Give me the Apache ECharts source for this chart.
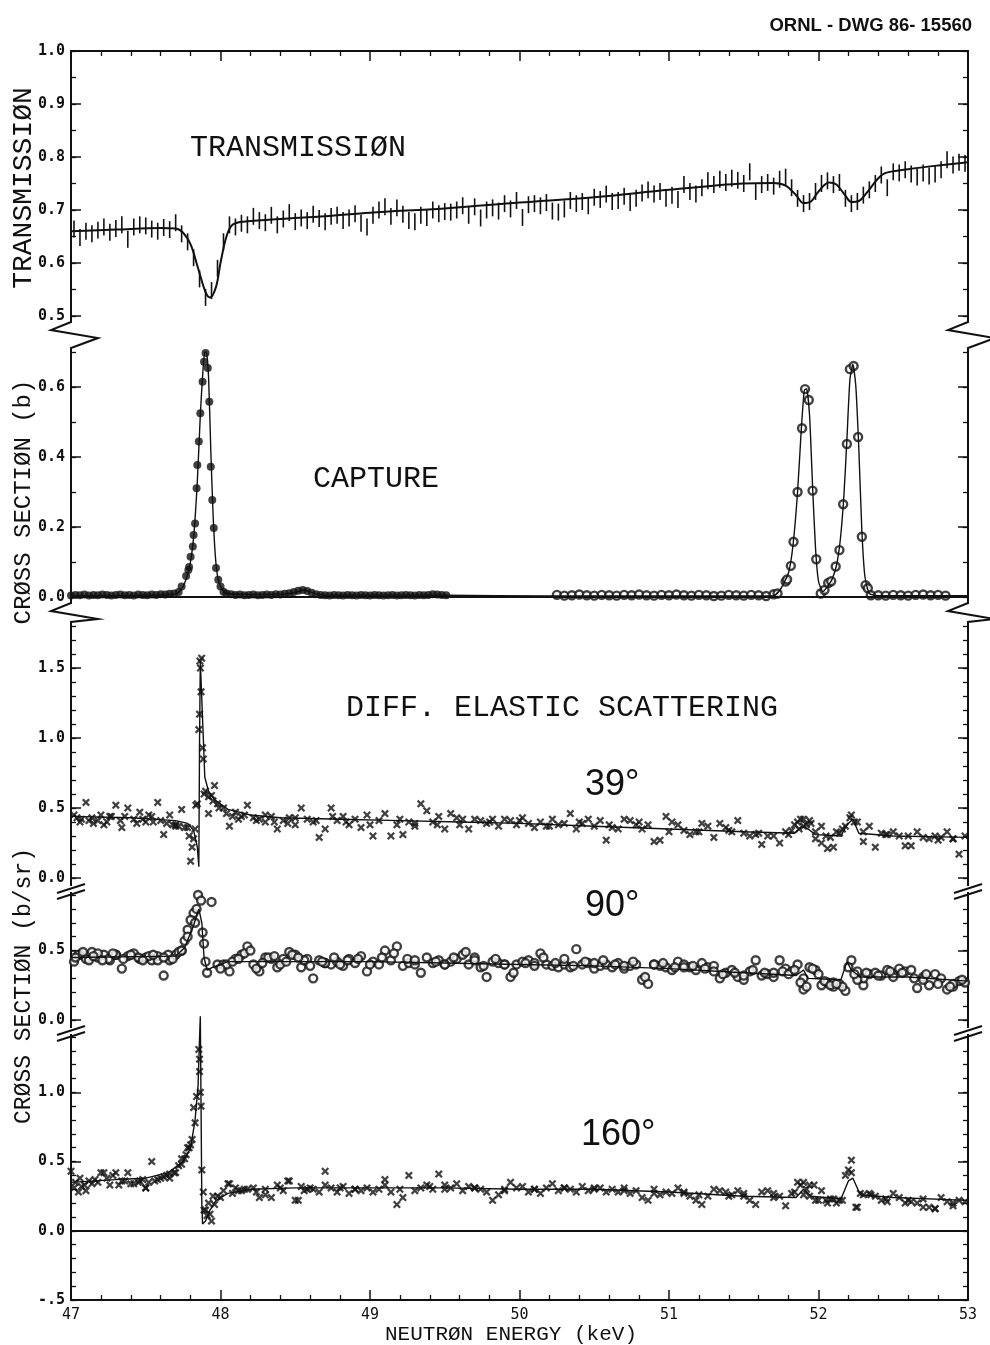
<!DOCTYPE html>
<html>
<head>
<meta charset="utf-8">
<script src="https://cdn.jsdelivr.net/npm/echarts@6/dist/echarts.min.js"></script>
<style>
html,body{margin:0;padding:0;background:#fff;}
#chart{width:990px;height:1345px;}
</style>
</head>
<body>
<div id="chart"></div>
<script>
// ---------------- DATA ----------------
const energyGrid = [
 47.02,47.06,47.10,47.14,47.18,47.22,47.26,47.30,47.34,47.38,
 47.42,47.46,47.50,47.54,47.58,47.62,47.66,47.70,47.74,47.78,
 47.82,47.86,47.90,47.94,47.98,48.02,48.06,48.10,48.14,48.18,
 48.22,48.26,48.30,48.34,48.38,48.42,48.46,48.50,48.54,48.58,
 48.62,48.66,48.70,48.74,48.78,48.82,48.86,48.90,48.94,48.98,
 49.02,49.06,49.10,49.14,49.18,49.22,49.26,49.30,49.34,49.38,
 49.42,49.46,49.50,49.54,49.58,49.62,49.66,49.70,49.74,49.78,
 49.82,49.86,49.90,49.94,49.98,50.02,50.06,50.10,50.14,50.18,
 50.22,50.26,50.30,50.34,50.38,50.42,50.46,50.50,50.54,50.58,
 50.62,50.66,50.70,50.74,50.78,50.82,50.86,50.90,50.94,50.98,
 51.02,51.06,51.10,51.14,51.18,51.22,51.26,51.30,51.34,51.38,
 51.42,51.46,51.50,51.54,51.58,51.62,51.66,51.70,51.74,51.78,
 51.82,51.86,51.90,51.94,51.98,52.02,52.06,52.10,52.14,52.18,
 52.22,52.26,52.30,52.34,52.38,52.42,52.46,52.50,52.54,52.58,
 52.62,52.66,52.70,52.74,52.78,52.82,52.86,52.90,52.94,52.98
];

const transmission = [
 .664,.648,.660,.655,.662,.668,.658,.665,.672,.645,
 .668,.672,.670,.664,.660,.667,.663,.676,.655,.640,
 .610,.570,.535,.548,.590,.640,.672,.668,.675,.672,
 .688,.680,.676,.690,.672,.683,.695,.678,.685,.680,
 .692,.684,.678,.688,.690,.680,.685,.693,.675,.668,
 .690,.700,.706,.688,.704,.692,.680,.678,.690,.686,
 .700,.693,.697,.696,.700,.708,.690,.706,.685,.700,
 .704,.698,.712,.702,.718,.686,.710,.712,.708,.714,
 .698,.696,.702,.718,.712,.716,.708,.724,.720,.730,
 .716,.718,.726,.714,.722,.732,.738,.730,.735,.722,
 .728,.720,.748,.735,.730,.742,.755,.748,.758,.752,
 .760,.756,.750,.772,.735,.748,.752,.745,.758,.762,
 .742,.722,.712,.716,.735,.750,.755,.748,.752,.722,
 .712,.716,.728,.738,.750,.766,.742,.772,.770,.776,
 .768,.762,.770,.764,.768,.776,.795,.785,.790,.788
];
const transmissionErr = 0.016;

const transmissionFit = [[47.0,.660],[47.3,.663],[47.6,.666],[47.7,.665],[47.75,.657],[47.8,.635],[47.85,.590],[47.9,.545],[47.93,.535],[47.97,.555],[48.0,.600],[48.04,.650],[48.08,.672],[48.15,.678],[48.4,.683],[48.7,.688],[49.0,.695],[49.5,.703],[50.0,.714],[50.5,.724],[51.0,.738],[51.5,.750],[51.7,.751],[51.78,.746],[51.85,.728],[51.9,.713],[51.95,.716],[52.0,.735],[52.07,.752],[52.12,.748],[52.18,.727],[52.22,.715],[52.27,.717],[52.33,.735],[52.4,.760],[52.45,.770],[52.6,.777],[52.8,.784],[53.0,.790]];

const captureLow = [
 [47.00,.004],[47.03,.006],[47.06,.005],[47.09,.007],[47.12,.004],[47.15,.006],[47.18,.005],[47.21,.007],[47.24,.006],[47.27,.004],
 [47.30,.006],[47.33,.007],[47.36,.005],[47.39,.006],[47.42,.004],[47.45,.007],[47.48,.006],[47.51,.005],[47.54,.007],[47.57,.006],
 [47.60,.008],[47.63,.007],[47.66,.009],[47.69,.010],[47.72,.014],
 [47.74,.030],[47.77,.060],[47.785,.077],[47.79,.086],[47.80,.115],[47.815,.144],[47.82,.177],[47.83,.210],[47.84,.311],[47.845,.377],
 [47.855,.444],[47.865,.525],[47.88,.615],[47.89,.672],[47.90,.697],[47.915,.654],[47.925,.558],[47.935,.372],[47.945,.277],[47.955,.197],
 [47.97,.083],[47.985,.049],[48.00,.030],[48.02,.015],
 [48.04,.010],[48.07,.008],[48.10,.006],[48.13,.007],[48.16,.005],[48.19,.006],[48.22,.007],[48.25,.005],[48.28,.006],[48.31,.007],
 [48.34,.006],[48.37,.008],[48.40,.007],[48.43,.009],[48.46,.011],[48.49,.014],[48.52,.018],[48.55,.020],[48.58,.017],[48.61,.012],
 [48.64,.008],[48.67,.006],[48.70,.005],[48.73,.004],[48.76,.006],[48.79,.005],[48.82,.004],[48.85,.006],[48.88,.005],[48.91,.004],
 [48.94,.006],[48.97,.005],[49.00,.004],[49.03,.006],[49.06,.005],[49.09,.004],[49.12,.005],[49.15,.006],[49.18,.004],[49.21,.005],
 [49.24,.006],[49.27,.005],[49.30,.004],[49.33,.006],[49.36,.005],[49.39,.006],[49.42,.008],[49.45,.007],[49.48,.006],[49.51,.005]
];
const captureHigh = [
 [50.25,.006],[50.30,.004],[50.35,.005],[50.40,.007],[50.45,.005],[50.50,.004],[50.55,.006],[50.60,.005],[50.65,.004],[50.70,.006],
 [50.75,.005],[50.80,.007],[50.85,.005],[50.90,.004],[50.95,.006],[51.00,.005],[51.05,.007],[51.10,.005],[51.15,.004],[51.20,.006],
 [51.25,.005],[51.30,.003],[51.35,.004],[51.40,.006],[51.45,.005],[51.50,.004],[51.55,.006],[51.60,.005],[51.65,.003],[51.70,.008],
 [51.726,.010],[51.78,.044],[51.79,.050],[51.815,.089],[51.833,.158],[51.86,.300],[51.89,.482],[51.91,.594],[51.935,.563],[51.96,.304],
 [51.985,.108],[52.015,.010],[52.04,.020],[52.065,.040],[52.085,.045],[52.115,.087],[52.14,.134],[52.165,.265],[52.19,.437],[52.21,.651],
 [52.235,.660],[52.265,.457],[52.29,.172],[52.315,.034],[52.33,.025],[52.35,.005],
 [52.40,.005],[52.45,.004],[52.50,.006],[52.55,.005],[52.60,.004],[52.65,.006],[52.70,.007],[52.75,.005],[52.80,.006],[52.85,.004]
];
const captureFit = [[47.0,.004],[47.70,.008],[47.75,.03],[47.79,.08],[47.82,.17],[47.845,.33],[47.865,.52],[47.88,.63],[47.895,.70],[47.905,.70],[47.92,.63],[47.935,.42],[47.95,.24],[47.965,.12],[47.98,.06],[48.00,.03],[48.04,.01],[48.40,.007],[48.50,.013],[48.56,.02],[48.62,.011],[48.70,.005],[49.50,.005],[50.20,.003],[51.70,.004],[51.75,.025],[51.80,.07],[51.83,.15],[51.86,.30],[51.885,.48],[51.905,.59],[51.92,.595],[51.94,.52],[51.96,.32],[51.98,.14],[52.00,.045],[52.03,.015],[52.06,.03],[52.09,.05],[52.12,.09],[52.145,.16],[52.17,.29],[52.19,.45],[52.21,.62],[52.23,.665],[52.25,.60],[52.27,.42],[52.29,.19],[52.31,.06],[52.34,.01],[52.40,.004],[53.0,.004]];

const scat39 = [
 .45,.40,.54,.43,.41,.38,.44,.52,.36,.50,
 .42,.47,.40,.44,.54,.31,.45,.38,.49,.36,
 .28,1.17,.62,.59,.53,.50,.37,.47,.44,.52,
 .43,.42,.40,.44,.35,.41,.43,.38,.50,.42,
 .40,.29,.35,.50,.41,.44,.38,.42,.36,.45,
 .30,.41,.46,.30,.38,.31,.40,.37,.53,.48,
 .40,.44,.35,.46,.43,.42,.35,.42,.41,.39,
 .42,.37,.42,.41,.38,.43,.39,.36,.40,.37,
 .42,.38,.39,.46,.35,.39,.42,.37,.41,.27,
 .36,.35,.42,.41,.38,.35,.38,.26,.27,.44,
 .40,.38,.34,.31,.33,.39,.37,.29,.39,.36,
 .33,.41,.32,.30,.31,.24,.30,.30,.25,.33,
 .34,.40,.37,.41,.28,.37,.21,.22,.32,.37,
 .45,.40,.26,.37,.22,.32,.31,.33,.30,.23,
 .23,.33,.29,.28,.30,.29,.33,.28,.17,.30
];
const scat39Extra = [[47.79,.30],[47.80,.12],[47.81,.22],[47.83,.35],[47.835,.52],[47.845,.53],[47.855,1.06],[47.862,1.55],[47.866,1.50],[47.87,1.33],[47.874,1.57],[47.88,.93],[47.885,.85],[47.89,.60],[47.92,.46],[47.96,.66],[47.07,.42],[47.15,.39],[47.27,.44],[47.33,.41],[47.55,.40],[47.70,.37],[48.30,.45],[48.45,.39],[48.75,.44],[49.20,.42],[49.60,.38],[50.00,.41],[50.40,.40],[50.80,.40],[51.20,.33],[51.60,.32],[51.87,.35],[51.90,.42],[51.95,.39],[52.05,.30],[52.21,.43],[52.45,.31],[52.80,.27],
 [47.04,.43],[47.12,.41],[47.20,.45],[47.24,.40],[47.36,.44],[47.44,.39],[47.48,.42],[47.52,.45],[47.60,.41],[47.64,.39],[47.68,.38],[47.72,.37],[47.76,.36],[47.92,.58],[47.95,.55],[47.99,.50],[48.04,.46],[48.08,.44],[48.12,.42],[48.16,.45],[48.24,.41],[48.36,.40],[48.50,.43],[48.64,.41],[48.84,.40],[49.00,.38],[49.30,.39],[49.45,.38],[49.80,.40],[50.20,.37],[50.60,.38],[51.00,.33],[51.40,.34],[51.80,.31],[51.84,.38],[51.88,.42],[51.92,.38],[51.98,.33],[52.02,.25],[52.08,.29],[52.12,.33],[52.16,.35],[52.24,.40],[52.30,.33],[52.60,.30],[52.90,.28]];
const fit39 = [[47.0,.44],[47.4,.43],[47.7,.41],[47.78,.39],[47.82,.34],[47.845,.22],[47.855,.08],[47.86,1.0],[47.865,1.55],[47.875,1.55],[47.885,1.0],[47.895,.72],[47.92,.62],[47.96,.56],[48.05,.49],[48.2,.45],[48.4,.43],[48.8,.42],[49.2,.41],[49.6,.40],[50.0,.39],[50.5,.37],[51.0,.35],[51.5,.33],[51.84,.32],[51.89,.37],[51.93,.35],[51.98,.31],[52.15,.30],[52.19,.38],[52.23,.42],[52.27,.32],[52.5,.30],[53.0,.29]];

const scat90 = [
 .42,.47,.44,.49,.45,.47,.43,.47,.37,.46,
 .48,.44,.45,.43,.46,.32,.43,.47,.50,.65,
 .77,.95,.42,.85,.40,.40,.35,.44,.47,.53,
 .40,.35,.45,.44,.38,.44,.49,.47,.38,.44,
 .30,.43,.41,.40,.42,.39,.44,.41,.46,.35,
 .42,.40,.50,.43,.53,.39,.41,.40,.34,.45,
 .41,.43,.40,.42,.44,.47,.40,.45,.38,.31,
 .42,.41,.40,.31,.40,.42,.43,.41,.48,.40,
 .39,.38,.40,.38,.51,.40,.41,.37,.39,.40,
 .38,.41,.37,.39,.40,.29,.26,.40,.39,.38,
 .36,.42,.40,.38,.36,.41,.38,.39,.30,.34,
 .36,.31,.29,.35,.43,.32,.33,.31,.43,.37,
 .35,.40,.22,.38,.36,.25,.27,.24,.26,.21,
 .43,.35,.25,.33,.34,.32,.36,.33,.37,.35,
 .36,.23,.31,.25,.33,.30,.22,.24,.28,.27
];
const scat90Extra = [[47.05,.47],[47.12,.43],[47.18,.48],[47.25,.44],[47.30,.47],[47.45,.45],[47.52,.46],[47.58,.43],[47.65,.47],[47.72,.49],[47.76,.57],[47.80,.72],[47.84,.80],[47.85,.90],[47.87,.86],[47.88,.63],[47.89,.55],[47.91,.34],[48.04,.40],[48.08,.42],[48.16,.48],[48.24,.37],[48.32,.45],[48.40,.40],[48.48,.47],[48.56,.43],[48.70,.41],[48.85,.43],[49.00,.40],[49.25,.44],[49.50,.40],[49.70,.43],[49.90,.40],[50.10,.39],[50.30,.44],[50.50,.41],[50.70,.39],[50.90,.40],[51.10,.38],[51.30,.35],[51.50,.32],[51.70,.34],[51.90,.30],[52.00,.33],[52.10,.27],[52.20,.38],[52.30,.30],[52.50,.31],[52.70,.29],[52.90,.26],[51.88,.27],[52.16,.24],[52.26,.29],
 [47.03,.45],[47.08,.49],[47.15,.46],[47.21,.43],[47.28,.48],[47.35,.44],[47.40,.47],[47.48,.43],[47.55,.47],[47.62,.45],[47.68,.44],[47.74,.50],[47.78,.60],[47.83,.70],[48.00,.37],[48.12,.44],[48.20,.50],[48.28,.41],[48.36,.46],[48.44,.42],[48.52,.45],[48.60,.39],[48.68,.42],[48.76,.45],[48.80,.40],[48.92,.44],[49.08,.45],[49.16,.48],[49.30,.43],[49.44,.42],[49.56,.45],[49.64,.49],[49.76,.39],[49.84,.44],[49.96,.34],[50.04,.41],[50.16,.45],[50.24,.41],[50.36,.39],[50.44,.42],[50.56,.43],[50.64,.40],[50.76,.42],[50.84,.31],[50.96,.41],[51.04,.38],[51.16,.39],[51.24,.37],[51.36,.33],[51.44,.34],[51.56,.36],[51.64,.34],[51.76,.35],[51.80,.33],[51.84,.36],[51.92,.24],[51.96,.37],[52.04,.28],[52.08,.25],[52.12,.26],[52.24,.33],[52.32,.34],[52.40,.32],[52.48,.35],[52.56,.34],[52.64,.30],[52.72,.33],[52.80,.26],[52.88,.24],[52.96,.29]];
const fit90 = [[47.0,.45],[47.7,.46],[47.76,.52],[47.82,.68],[47.855,.80],[47.875,.70],[47.89,.45],[47.91,.36],[47.95,.38],[48.05,.42],[48.5,.42],[49.0,.42],[49.5,.41],[50.0,.40],[50.5,.39],[51.0,.37],[51.5,.34],[51.85,.32],[51.9,.36],[51.93,.30],[52.15,.29],[52.19,.42],[52.22,.36],[52.28,.31],[52.6,.31],[53.0,.28]];

const scat160 = [
 .31,.38,.29,.34,.35,.42,.33,.42,.36,.42,
 .34,.36,.31,.50,.37,.39,.38,.42,.52,.60,
 .89,1.24,.15,.07,.25,.29,.34,.31,.29,.30,
 .31,.24,.30,.24,.33,.29,.36,.22,.32,.30,
 .30,.28,.43,.31,.28,.32,.27,.30,.29,.31,
 .28,.30,.37,.28,.19,.24,.40,.29,.31,.33,
 .30,.41,.33,.31,.34,.29,.32,.31,.30,.28,
 .22,.26,.29,.35,.31,.32,.28,.30,.27,.31,
 .34,.29,.31,.30,.28,.32,.29,.30,.31,.28,
 .30,.28,.31,.27,.29,.24,.22,.30,.26,.28,
 .27,.31,.28,.25,.22,.19,.25,.30,.29,.28,
 .26,.29,.27,.22,.19,.28,.29,.27,.25,.18,
 .27,.35,.26,.33,.22,.29,.20,.23,.22,.40,
 .51,.17,.26,.27,.25,.22,.21,.27,.24,.20,
 .21,.20,.23,.17,.16,.24,.21,.18,.22,.21
];
const scat160Extra = [[47.00,.43],[47.05,.28],[47.09,.33],[47.16,.37],[47.20,.42],[47.28,.40],[47.32,.33],[47.45,.35],[47.50,.31],[47.56,.36],[47.64,.40],[47.69,.42],[47.72,.47],[47.76,.52],[47.79,.60],[47.81,.66],[47.84,.97],[47.855,1.31],[47.857,1.41],[47.86,1.15],[47.865,1.0],[47.87,.90],[47.875,.44],[47.885,.28],[47.89,.15],[47.91,.11],[47.92,.20],[47.95,.25],[48.05,.34],[48.12,.29],[48.30,.26],[48.45,.36],[48.52,.22],[48.60,.31],[48.80,.31],[49.10,.33],[49.50,.30],[49.90,.30],[50.30,.31],[50.70,.29],[51.10,.27],[51.50,.25],[51.90,.35],[51.97,.33],[52.05,.22],[52.12,.20],[52.20,.44],[52.25,.17],[52.35,.26],[52.70,.17],[52.78,.16],
 [47.03,.35],[47.07,.32],[47.12,.36],[47.24,.38],[47.36,.36],[47.40,.34],[47.48,.37],[47.52,.35],[47.60,.38],[47.66,.41],[47.74,.48],[47.77,.55],[47.80,.62],[47.83,.78],[47.93,.12],[47.96,.19],[48.00,.24],[48.08,.27],[48.16,.30],[48.24,.28],[48.40,.31],[48.56,.29],[48.70,.33],[48.90,.30],[49.20,.30],[49.40,.32],[49.70,.31],[50.10,.30],[50.50,.31],[50.90,.27],[51.20,.26],[51.40,.25],[51.70,.24],[51.84,.28],[51.88,.33],[51.92,.30],[51.94,.25],[52.00,.22],[52.08,.23],[52.16,.22],[52.22,.42],[52.28,.27],[52.45,.23],[52.60,.22],[52.90,.20]];
const fit160 = [[47.0,.35],[47.3,.37],[47.5,.38],[47.65,.42],[47.75,.50],[47.80,.60],[47.83,.80],[47.85,1.05],[47.86,1.40],[47.865,1.55],[47.87,.90],[47.875,.20],[47.88,.05],[47.90,.07],[47.93,.15],[47.97,.22],[48.05,.27],[48.2,.30],[48.5,.31],[49.0,.31],[49.5,.31],[50.0,.30],[50.5,.30],[51.0,.28],[51.5,.25],[51.85,.24],[51.90,.30],[51.95,.25],[52.15,.23],[52.2,.36],[52.23,.38],[52.28,.26],[52.5,.24],[53.0,.22]];

// tick values
const energyTicks = [47, 48, 49, 50, 51, 52, 53];
const transTicks = [0.5, 0.6, 0.7, 0.8, 0.9, 1.0];
const captureTicks = [0, 0.2, 0.4, 0.6];
const s39Ticks = [0, 0.5, 1.0, 1.5];
const s90Ticks = [0, 0.5];
const s160Ticks = [-0.5, 0, 0.5, 1.0];

// ---------------- LAYOUT ----------------
const LEFT = 71, RIGHT = 968;
const INK = '#111';
const panels = [
  {top: 51,   height: 265, min: 0.5, max: 1.0, ticks: transTicks,   minor: 0.05},
  {top: 352,  height: 245, min: 0,   max: 0.7, ticks: captureTicks, minor: 0.1},
  {top: 626,  height: 252, min: 0,   max: 1.8, ticks: s39Ticks,     minor: 0.1},
  {top: 895,  height: 125, min: 0,   max: 0.9, ticks: s90Ticks,     minor: 0.1},
  {top: 1037, height: 263, min: -0.5, max: 1.4, ticks: s160Ticks,   minor: 0.1}
];

const zip = (xs, ys) => xs.map((x, i) => [x, ys[i]]);
const fmtY = v => (v < 0 ? '-' + Math.abs(v).toFixed(1).replace(/^0/, '') : v.toFixed(1));

const grid = panels.map(p => ({left: LEFT, width: RIGHT - LEFT, top: p.top, height: p.height, containLabel: false}));

const xAxis = panels.map((p, i) => {
  const base = {
    type: 'value', gridIndex: i, min: 47, max: 53, interval: 1,
    splitLine: {show: false},
    axisLine: {show: true, onZero: false, lineStyle: {color: INK, width: 2}},
    axisTick: {show: true, inside: true, length: 10, lineStyle: {color: INK, width: 1.5}},
    minorTick: {show: true, splitNumber: 5, length: 5, lineStyle: {color: INK, width: 1.3}},
    axisLabel: {show: false}
  };
  if (i === 0) return Object.assign(base, {position: 'top'});
  if (i === 4) return Object.assign(base, {position: 'bottom',
    axisLabel: {show: true, customValues: energyTicks, margin: 8, color: INK,
      fontFamily: 'DejaVu Sans Mono', fontSize: 15, formatter: v => String(v)}});
  return Object.assign(base, {show: false});
});

const yAxis = [];
panels.forEach((p, i) => {
  ['left', 'right'].forEach(side => {
    yAxis.push({
      type: 'value', gridIndex: i, position: side, min: p.min, max: p.max,
      splitLine: {show: false},
      axisLine: {show: true, onZero: false, lineStyle: {color: INK, width: 2}},
      axisTick: {show: true, inside: true, length: 10, customValues: p.ticks, lineStyle: {color: INK, width: 1.5}},
      axisLabel: side === 'left'
        ? {show: true, customValues: p.ticks, formatter: fmtY, margin: 6, color: INK,
           fontFamily: 'DejaVu Sans Mono', fontWeight: 'bold', fontSize: 15}
        : {show: false}
    });
    yAxis.push({
      type: 'value', gridIndex: i, position: side, min: p.min, max: p.max, interval: p.minor,
      splitLine: {show: false},
      axisLine: {show: false},
      axisTick: {show: true, inside: true, length: 5, lineStyle: {color: INK, width: 1.3}},
      axisLabel: {show: false}
    });
  });
});

const crossSymbol = 'path://M0,2L2,0L5,3L8,0L10,2L7,5L10,8L8,10L5,7L2,10L0,8L3,5Z';
const zeroLine = {silent: true, symbol: 'none', label: {show: false},
  lineStyle: {color: INK, type: 'solid', width: 1.8}, data: [{yAxis: 0}]};
const fitStyle = {color: INK, width: 1.4};

const series = [
  {type: 'custom', xAxisIndex: 0, yAxisIndex: 0, data: zip(energyGrid, transmission),
   encode: {x: 0, y: 1},
   renderItem: function (params, api) {
     const e = api.value(0), t = api.value(1);
     const lo = api.coord([e, t - transmissionErr]);
     const hi = api.coord([e, t + transmissionErr]);
     return {type: 'line', shape: {x1: lo[0], y1: lo[1], x2: hi[0], y2: hi[1]},
       style: {stroke: INK, lineWidth: 1.6}};
   }},
  {type: 'line', xAxisIndex: 0, yAxisIndex: 0, data: transmissionFit, showSymbol: false,
   smooth: 0.35, lineStyle: {color: INK, width: 2}},

  {type: 'scatter', xAxisIndex: 1, yAxisIndex: 4, data: captureLow, symbol: 'circle', symbolSize: 8,
   itemStyle: {color: INK}},
  {type: 'scatter', xAxisIndex: 1, yAxisIndex: 4, data: captureHigh, symbol: 'circle', symbolSize: 8,
   itemStyle: {color: '#fff', borderColor: INK, borderWidth: 2.4}},
  {type: 'line', xAxisIndex: 1, yAxisIndex: 4, data: captureFit, showSymbol: false, smooth: 0.2,
   lineStyle: fitStyle, markLine: zeroLine},

  {type: 'scatter', xAxisIndex: 2, yAxisIndex: 8, data: zip(energyGrid, scat39).concat(scat39Extra),
   symbol: crossSymbol, symbolSize: 8, itemStyle: {color: INK}},
  {type: 'line', xAxisIndex: 2, yAxisIndex: 8, data: fit39, showSymbol: false, smooth: false,
   lineStyle: fitStyle},

  {type: 'scatter', xAxisIndex: 3, yAxisIndex: 12, data: zip(energyGrid, scat90).concat(scat90Extra),
   symbol: 'circle', symbolSize: 8, itemStyle: {color: '#fff', borderColor: INK, borderWidth: 2.4}},
  {type: 'line', xAxisIndex: 3, yAxisIndex: 12, data: fit90, showSymbol: false, smooth: false,
   lineStyle: fitStyle},

  {type: 'scatter', xAxisIndex: 4, yAxisIndex: 16, data: zip(energyGrid, scat160).concat(scat160Extra),
   symbol: crossSymbol, symbolSize: 8, itemStyle: {color: INK}},
  {type: 'line', xAxisIndex: 4, yAxisIndex: 16, data: fit160, showSymbol: false, smooth: false, clip: false,
   lineStyle: fitStyle, markLine: zeroLine}
];

// ---------------- TEXT & BREAK MARKS ----------------
const plotFont = (size) => size + 'px "Liberation Mono", "DejaVu Sans Mono", monospace';
const txt = (text, x, y, font, align, rot) => ({
  type: 'text', x: x, y: y, rotation: rot || 0, silent: true,
  style: {text: text, font: font, fill: INK, align: align || 'left', verticalAlign: 'middle',
          textAlign: align || 'left', textVerticalAlign: 'middle'}
});
const poly = (pts) => ({type: 'polyline', silent: true, shape: {points: pts},
  style: {stroke: INK, lineWidth: 2, fill: null}});
const seg = (x1, y1, x2, y2) => ({type: 'line', silent: true, shape: {x1, y1, x2, y2},
  style: {stroke: INK, lineWidth: 2}});

const zig = (x, y0, y1) => poly([[x, y0], [x, y0 + 6], [x - 20, y0 + 14], [x + 27, y0 + 22], [x, y1 - 4], [x, y1]]);
const slash = (x, yTop, yBot) => [
  seg(x, yTop, x, yTop + 8),
  seg(x - 14, yTop + 15, x + 14, yTop + 6),
  seg(x - 14, yTop + 21, x + 14, yTop + 12),
  seg(x, yTop + 14, x, yBot)
];

const graphic = [
  txt('ORNL - DWG 86- 15560', 972, 26, 'bold 18.5px "Liberation Sans", Arial, sans-serif', 'right'),
  txt('TRANSMISSIØN', 190, 148, plotFont(30)),
  txt('CAPTURE', 313, 479, plotFont(30)),
  txt('DIFF. ELASTIC SCATTERING', 346, 708, plotFont(30)),
  txt('39°', 585, 785, '36px "Liberation Sans", Arial, sans-serif'),
  txt('90°', 585, 906, '36px "Liberation Sans", Arial, sans-serif'),
  txt('160°', 581, 1135, '36px "Liberation Sans", Arial, sans-serif'),
  txt('TRANSMISSIØN', 24, 188, plotFont(28), 'center', Math.PI / 2),
  txt('CRØSS SECTIØN (b)', 24, 502, plotFont(24), 'center', Math.PI / 2),
  txt('CRØSS SECTIØN (b/sr)', 24, 986, plotFont(23), 'center', Math.PI / 2),
  txt('NEUTRØN ENERGY (keV)', 511, 1334, plotFont(21), 'center'),
  zig(LEFT, 316, 352), zig(RIGHT, 316, 352),
  zig(LEFT, 597, 626), zig(RIGHT, 597, 626)
].concat(slash(LEFT, 878, 895), slash(RIGHT, 878, 895),
         slash(LEFT, 1020, 1037), slash(RIGHT, 1020, 1037));

const chart = echarts.init(document.getElementById('chart'), null, {renderer: 'canvas'});
chart.setOption({
  backgroundColor: '#fff',
  animation: false,
  grid: grid,
  xAxis: xAxis,
  yAxis: yAxis,
  series: series,
  graphic: graphic
});
</script>
</body>
</html>
